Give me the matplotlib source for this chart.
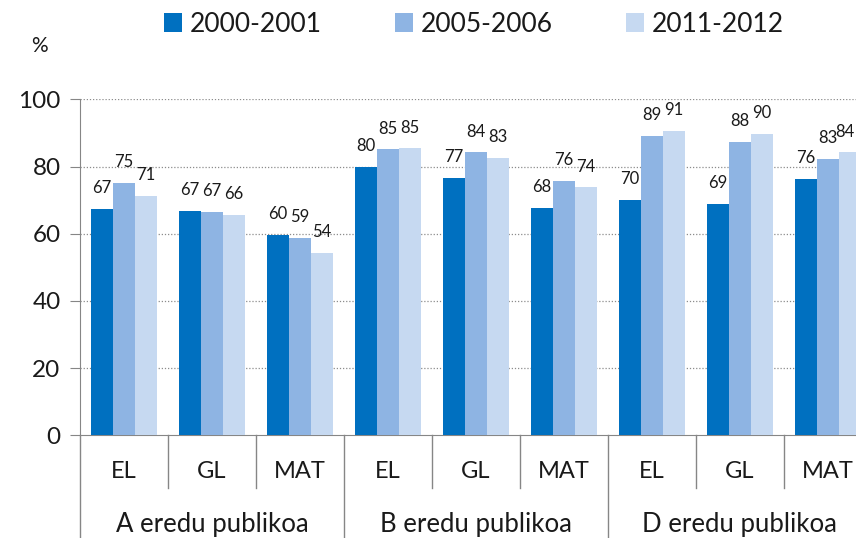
import matplotlib
matplotlib.use("Agg")
import matplotlib.pyplot as plt
import matplotlib.transforms as mtransforms
import numpy as np

plt.rcParams['font.family'] = ['Lato', 'DejaVu Sans']

subjects = ["EL", "GL", "MAT", "EL", "GL", "MAT", "EL", "GL", "MAT"]
groups = ["A eredu publikoa", "B eredu publikoa", "D eredu publikoa"]
series_names = ["2000-2001", "2005-2006", "2011-2012"]
s2000 = [67.3, 66.9, 59.6, 79.8, 76.6, 67.7, 70.0, 68.8, 76.2]
s2005 = [75.0, 66.5, 58.8, 85.1, 84.2, 75.7, 89.0, 87.4, 82.2]
s2011 = [71.3, 65.7, 54.4, 85.4, 82.6, 73.8, 90.6, 89.8, 84.2]
lab2000 = [67, 67, 60, 80, 77, 68, 70, 69, 76]
lab2005 = [75, 67, 59, 85, 84, 76, 89, 88, 83]
lab2011 = [71, 66, 54, 85, 83, 74, 91, 90, 84]
colors = ["#0070C0", "#8EB4E3", "#C6D9F1"]

fig = plt.figure(figsize=(8.56, 5.38), dpi=100)
ax = fig.add_axes([0.0935, 0.1909, 0.925, 0.6245])

x = np.arange(len(subjects))
w = 0.25
series = [s2000, s2005, s2011]
labels = [lab2000, lab2005, lab2011]
annots = []
for i, (vals, labs) in enumerate(zip(series, labels)):
    bars = ax.bar(x + (i - 1) * w, vals, width=w, color=colors[i],
                  label=series_names[i], zorder=3)
    for b, lab in zip(bars, labs):
        a = ax.annotate(str(lab), (b.get_x() + b.get_width() / 2, b.get_height()),
                        xytext=(0, 15), textcoords='offset points',
                        ha='center', va='center', fontsize=12, color='#1a1a1a')
        annots.append(a)

ax.set_xlim(-0.5, len(subjects) - 0.5)
ax.set_ylim(0, 100)
ax.set_yticks([0, 20, 40, 60, 80, 100])
ax.tick_params(axis='y', length=7, color='#868686', labelsize=17.5, pad=7,
               labelcolor='#1a1a1a')
ax.set_xticks([])
for v in [20, 40, 60, 80, 100]:
    ax.axhline(v, color='#8c8c8c', linestyle=(0, (1, 1.5)), linewidth=0.9, zorder=1)
for s in ['top', 'right']:
    ax.spines[s].set_visible(False)
ax.spines['left'].set_color('#868686')
ax.spines['bottom'].set_color('#868686')

trans = mtransforms.blended_transform_factory(ax.transData, ax.transAxes)
for i, s in enumerate(subjects):
    ax.text(i, -0.127, s, transform=trans, ha='center', va='baseline',
            fontsize=17, color='#1a1a1a')
for g, name in enumerate(groups):
    ax.text(g * 3 + 1, -0.288, name, transform=trans, ha='center', va='baseline',
            fontsize=18.5, color='#1a1a1a')
for k in range(len(subjects)):
    xb = k - 0.5
    bottom = -0.31 if k % 3 == 0 else -0.157
    ax.plot([xb, xb], [0, bottom], transform=trans, color='#868686',
            linewidth=1.0, clip_on=False)

fig.text(39 / 856, 1 - 46 / 538, "%", ha='center', va='center', fontsize=15,
         color='#1a1a1a')

leg = fig.legend(loc='center', bbox_to_anchor=(474 / 856, 1 - 24 / 538), ncol=3,
                 frameon=False, fontsize=19, handlelength=0.7, handleheight=0.7,
                 handletextpad=0.3, columnspacing=2.75)
for t in leg.get_texts():
    t.set_color('#1a1a1a')

# keep labels inside the figure
fig.canvas.draw()
renderer = fig.canvas.get_renderer()
figw = fig.bbox.width
for a in annots:
    bb = a.get_window_extent(renderer)
    if bb.x1 > figw - 1:
        dx = (bb.x1 - (figw - 1)) * 72 / fig.dpi
        a.xyann = (a.xyann[0] - dx, a.xyann[1])

fig.savefig("out.png", dpi=100)
